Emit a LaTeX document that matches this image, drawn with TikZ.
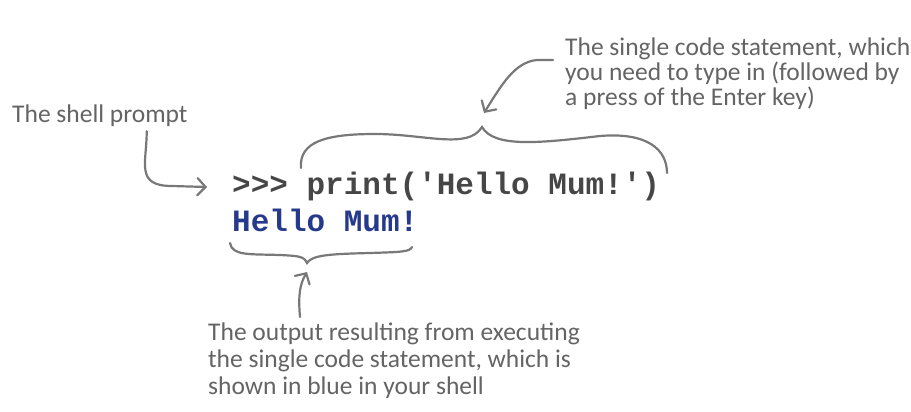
\documentclass[tikz,border=0pt]{standalone}
\usepackage{fontspec}
\setmainfont{Carlito}
\setmonofont{Liberation Mono}
\usepackage{tikz}
\usetikzlibrary{positioning, arrows.meta}

\definecolor{notegray}{RGB}{100,100,100}
\definecolor{linegray}{RGB}{120,120,120}
\definecolor{codegray}{RGB}{70,70,70}
\definecolor{outblue}{RGB}{38,58,140}

\begin{document}
\begin{tikzpicture}[x=1pt, y=-1pt,
  note/.style={font=\fontsize{25.5}{27}\selectfont, text=notegray, inner sep=2pt, align=left},
  code/.style={font=\fontsize{31}{36}\selectfont\ttfamily\bfseries, inner sep=0pt},
  pointer/.style={draw=linegray, line width=2.2pt, line cap=round, line join=round,
    -{Straight Barb[length=8pt, width=17pt, line cap=round]}},
  bracket/.style={draw=linegray, line width=2.2pt, line cap=round}]

\useasboundingbox (0,0) rectangle (911,412);

% the two lines typed in the shell
\node[code, text=codegray, anchor=base west] (stmt) at (232,194) {>{}>{}> print('Hello Mum!')};
\node[code, text=outblue, anchor=base west] (output) at (232,231) {Hello Mum!};

% notes
\node[note, anchor=base west] (prompt) at (10,122) {The shell prompt};
\node[note, anchor=north west, font=\fontsize{25.5}{25}\selectfont] (stmtnote) at (563,36) {The single code statement, which\\you need to type in (followed by\\a press of the Enter key)};
\node[note, anchor=north west] (outnote) at (206,321) {The output resulting from executing\\the single code statement, which is\\shown in blue in your shell};

% brace ends and tips
\coordinate (stmtcusp) at (482,127);
\coordinate (outcusp) at (307,263);

% braces
\path[bracket] (301,168) .. controls (299,142) and (325,134) .. (375,134)
  .. controls (425,134) and (468,150) .. (stmtcusp)
  .. controls (494,148) and (540,143) .. (600,136)
  .. controls (648,132) and (667,150) .. (667,173);
\path[bracket] (230,243) .. controls (232,256) and (250,254) .. (280,255)
  .. controls (298,256) and (304,256) .. (outcusp)
  .. controls (312,255) and (330,254) .. (370,253)
  .. controls (400,252) and (410,252) .. (412,247);

% arrows
\path[pointer] ([xshift=-43pt,yshift=-3pt]prompt.south east) .. controls +(0,32) and (135,186) .. (172,186) -- (207,187);
\path[pointer] ([xshift=-10pt,yshift=-24pt]stmtnote.north west) -- +(-16,0) .. controls +(-22,2) and (502,84) .. ([xshift=2pt,yshift=14pt]stmtcusp);
\path[pointer] ([xshift=94pt,yshift=4pt]outnote.north west) .. controls +(-2,-22) and (300,284) .. ([yshift=-9pt]outcusp);

\end{tikzpicture}
\end{document}
